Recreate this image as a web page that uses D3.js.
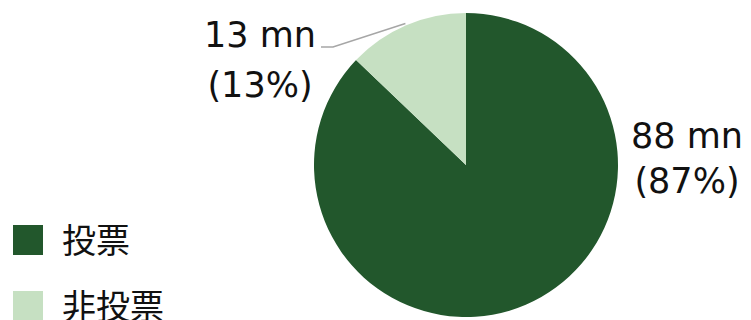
<!DOCTYPE html>
<html>
<head>
<meta charset="utf-8">
<script src="https://cdn.jsdelivr.net/npm/d3@7"></script>
<style>
  body { margin: 0; background: #fff; }
  text { font-family: "DejaVu Sans", sans-serif; fill: #111; }
</style>
</head>
<body>
<div id="chart"></div>
<script>
// data
const categories = ["投票", "非投票"];
const values = [88, 13];
const valueLabels = ["88 mn", "13 mn"];
const pctLabels = ["(87%)", "(13%)"];
const colors = ["#22572c", "#c6e0c2"];

const width = 751, height = 320,
    cx = 466, cy = 165, radius = 152;

const svg = d3.select("#chart")
    .append("svg")
    .attr("width", width)
    .attr("height", height);

const data = categories.map((c, i) => ({ cat: c, value: values[i], label: valueLabels[i], pct: pctLabels[i], color: colors[i] }));

const pie = d3.pie().sort(null).value(d => d.value);
const arc = d3.arc().innerRadius(0).outerRadius(radius);
const arcs = pie(data);

const g = svg.append("g").attr("transform", `translate(${cx},${cy})`);

g.selectAll("path")
    .data(arcs)
    .join("path")
    .attr("fill", d => d.data.color)
    .attr("d", arc);

// labels: [x, first baseline, second baseline] relative to pie center
const labelPos = [[221, -17, 28], [-206, -118, -68]];
arcs.forEach((a, i) => {
    const [lx, y1, y2] = labelPos[i];
    const t = g.append("text")
        .attr("text-anchor", "middle")
        .style("font-size", "35px");
    t.append("tspan").attr("x", lx).attr("y", y1).text(a.data.label);
    t.append("tspan").attr("x", lx).attr("y", y2).text(a.data.pct);
});

// leader line for the small slice
const small = arcs[1];
const mid = (small.startAngle + small.endAngle) / 2;
const edge = [Math.sin(mid) * (radius + 2), -Math.cos(mid) * (radius + 2)];
g.append("polyline")
    .attr("points", [[-145, -118], [-133, -118], edge].map(p => p.join(",")).join(" "))
    .attr("fill", "none")
    .attr("stroke", "#a6a6a6")
    .attr("stroke-width", 1.5);

// legend
const legend = svg.append("g")
    .selectAll("g")
    .data(data)
    .join("g")
    .attr("transform", (d, i) => `translate(13, ${225 + i * 66})`);

legend.append("rect")
    .attr("width", 30)
    .attr("height", 30)
    .attr("fill", d => d.color);

legend.append("text")
    .attr("x", 49)
    .attr("y", 13)
    .attr("dominant-baseline", "central")
    .style("font-family", "'Noto Sans CJK JP', sans-serif")
    .style("font-size", "34px")
    .text(d => d.cat);
</script>
</body>
</html>
